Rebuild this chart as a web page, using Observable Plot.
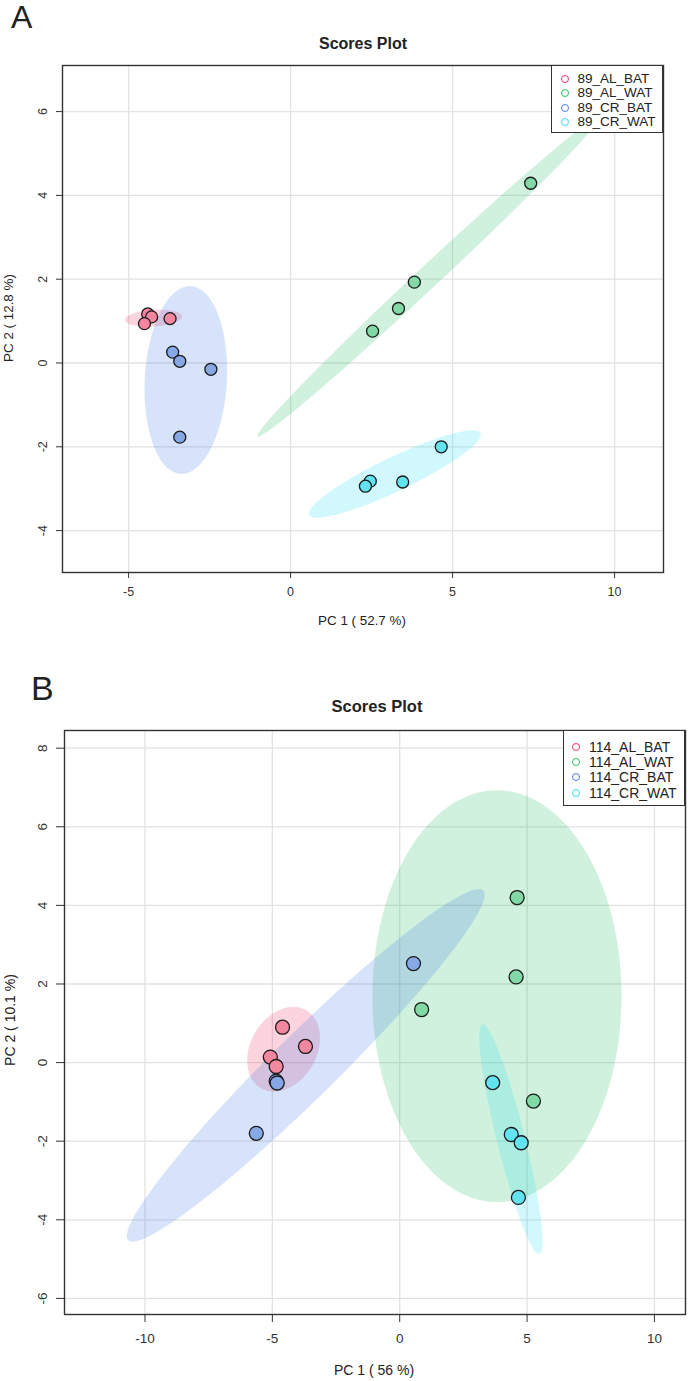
<!DOCTYPE html>
<html><head><meta charset="utf-8">
<script src="https://cdn.jsdelivr.net/npm/d3@7"></script>
<script src="https://cdn.jsdelivr.net/npm/@observablehq/plot@0.6"></script>
<style>
body{margin:0;background:#fff;font-family:"Liberation Sans",Arial,sans-serif;color:#222;}
#wrap{position:relative;width:688px;height:1381px;overflow:hidden;background:#fff;}
.abs{position:absolute;white-space:nowrap;line-height:1;}
.panel{position:absolute;left:0;}
.legend{position:absolute;background:#fff;border:1px solid #333;box-sizing:border-box;}
.lrow{position:absolute;white-space:nowrap;line-height:1;transform:translateY(-50%);color:#222;}
.ldot{position:absolute;border-radius:50%;box-sizing:border-box;transform:translate(-50%,-50%);}
</style>
</head><body>
<div id="wrap"></div>
<script>
// ---------- data ----------
const groupsA = ["89_AL_BAT", "89_AL_WAT", "89_CR_BAT", "89_CR_WAT"];
const groupsB = ["114_AL_BAT", "114_AL_WAT", "114_CR_BAT", "114_CR_WAT"];
const groupColors = ["#EE3A6A", "#2BBF62", "#4A7EEA", "#2FE0F2"];
const pointFills = ["#F2879F", "#83D9A6", "#86A9E6", "#63E3F0"];

// Panel A scores
const scoreA_group = [0,0,0,0, 1,1,1,1, 2,2,2,2, 3,3,3,3];
const scoreA_pc1 = [-4.41,-4.29,-4.51,-3.72, 7.41,3.82,3.33,2.53, -3.64,-3.42,-2.46,-3.42, 4.65,2.46,2.31,3.46];
const scoreA_pc2 = [1.17,1.10,0.94,1.06, 4.29,1.93,1.30,0.76, 0.26,0.04,-0.15,-1.77, -2.00,-2.82,-2.94,-2.84];

// Panel B scores
const scoreB_group = [0,0,0,0, 1,1,1,1, 2,2,2,2, 3,3,3,3];
const scoreB_pc1 = [-4.60,-3.70,-5.08,-4.85, 4.61,4.57,0.86,5.25, -4.85,-4.81,-5.63,0.54, 3.65,4.38,4.77,4.66];
const scoreB_pc2 = [0.90,0.41,0.14,-0.10, 4.20,2.18,1.35,-0.98, -0.47,-0.52,-1.80,2.52, -0.51,-1.83,-2.04,-3.43];

// Confidence ellipses (center and two semi-axis vectors, data units), per group
const ellA_cx = [-4.23, 4.27, -3.235, 3.22];
const ellA_cy = [1.07, 2.07, -0.405, -2.65];
const ellA_ax = [0.88, 5.29, 0.154, 2.645];
const ellA_ay = [0.04, 3.82, 2.24, 0.976];
const ellA_bx = [0.0, 0.232, 1.265, 0.226];
const ellA_by = [0.20, -0.192, -0.048, -0.365];

const ellB_cx = [-4.56, 3.82, -3.69, 4.365];
const ellB_cy = [0.34, 1.69, -0.07, -1.95];
const ellB_ax = [0.883, 0.0, 6.97, -1.119];
const ellB_ay = [0.992, 5.24, 4.45, 2.921];
const ellB_bx = [1.123, 4.89, 0.887, 0.534];
const ellB_by = [-0.420, 0.0, -0.575, 0.087];

const ticksA_x = [-5, 0, 5, 10];
const ticksA_y = [-4, -2, 0, 2, 4, 6];
const ticksB_x = [-10, -5, 0, 5, 10];
const ticksB_y = [-6, -4, -2, 0, 2, 4, 6, 8];

// ---------- helpers ----------
function ellipse(cx, cy, ax, ay, bx, by) {
  const pts = [];
  const n = 140;
  for (let i = 0; i < n; i++) {
    const t = 2 * Math.PI * i / n;
    pts.push({x: cx + ax * Math.cos(t) + bx * Math.sin(t), y: cy + ay * Math.cos(t) + by * Math.sin(t)});
  }
  return pts;
}

const fmt = d => String(d);

function makePanel(cfg) {
  const marks = [
    Plot.gridX(cfg.xt, {stroke: "#e2e2e2", strokeOpacity: 1, strokeWidth: 1.3}),
    Plot.gridY(cfg.yt, {stroke: "#e2e2e2", strokeOpacity: 1, strokeWidth: 1.3})
  ];
  for (let g = 0; g < 4; g++) {
    const e = ellipse(cfg.ell.cx[g], cfg.ell.cy[g], cfg.ell.ax[g], cfg.ell.ay[g], cfg.ell.bx[g], cfg.ell.by[g]);
    marks.push(Plot.line(e, {x: "x", y: "y", fill: groupColors[g], fillOpacity: 0.22, stroke: "none", curve: "linear-closed"}));
  }
  const pts = cfg.pc1.map((v, i) => ({x: v, y: cfg.pc2[i], g: cfg.grp[i]}));
  for (let g = 0; g < 4; g++) {
    marks.push(Plot.dot(pts.filter(d => d.g === g), {x: "x", y: "y", r: cfg.r, fill: pointFills[g], stroke: "#1a1a1a", strokeWidth: 1.3}));
  }
  marks.push(Plot.frame({stroke: "#333", strokeWidth: 1.4}));
  marks.push(Plot.axisX(cfg.xt, {tickSize: cfg.tickSize, tickPadding: cfg.padX, tickFormat: fmt, label: null, fontSize: cfg.fs, stroke: "#333"}));
  marks.push(Plot.axisY(cfg.yt, {tickSize: cfg.tickSize, tickPadding: cfg.padY, tickFormat: fmt, tickRotate: -90, label: null, fontSize: cfg.fs, stroke: "#333"}));
  return Plot.plot({
    width: 688, height: cfg.height,
    marginLeft: cfg.ml, marginRight: cfg.mr, marginTop: cfg.mt, marginBottom: cfg.mb,
    x: {domain: cfg.xd}, y: {domain: cfg.yd},
    style: {fontFamily: '"Liberation Sans", Arial, sans-serif', color: "#333", background: "white", overflow: "visible"},
    marks
  });
}

const wrap = document.getElementById("wrap");
function addText(txt, x, baseline, fs, opts = {}) {
  const d = document.createElement("div");
  d.className = "abs";
  d.textContent = txt;
  d.style.fontSize = fs + "px";
  d.style.top = Math.max(1, baseline - 0.8465 * fs) + "px";
  if (opts.bold) d.style.fontWeight = "bold";
  d.style.left = x + "px";
  if (opts.center) d.style.transform = "translateX(-50%)";
  wrap.appendChild(d);
  return d;
}
function addVText(txt, cx, cy, fs) {
  const d = document.createElement("div");
  d.className = "abs";
  d.textContent = txt;
  d.style.fontSize = fs + "px";
  d.style.left = cx + "px";
  d.style.top = cy + "px";
  d.style.transform = "translate(-50%,-50%) rotate(-90deg)";
  wrap.appendChild(d);
}
function addLegend(names, left, top, w, h, rowY, dotX, textX, fs) {
  const L = document.createElement("div");
  L.className = "legend";
  L.style.left = left + "px"; L.style.top = top + "px";
  L.style.width = w + "px"; L.style.height = h + "px";
  names.forEach((n, i) => {
    const dot = document.createElement("div");
    dot.className = "ldot";
    dot.style.width = "8px"; dot.style.height = "8px";
    dot.style.border = "1.6px solid " + groupColors[i];
    dot.style.left = dotX + "px"; dot.style.top = rowY[i] + "px";
    L.appendChild(dot);
    const t = document.createElement("div");
    t.className = "lrow";
    t.style.left = textX + "px"; t.style.top = rowY[i] + "px";
    t.style.fontSize = fs + "px";
    t.textContent = n;
    L.appendChild(t);
  });
  wrap.appendChild(L);
}

// ---------- Panel A ----------
const pA = makePanel({
  height: 640, ml: 62, mr: 25, mt: 65, mb: 68,
  xd: [-7.04, 11.51], yd: [-5.0, 7.10], xt: ticksA_x, yt: ticksA_y,
  pc1: scoreA_pc1, pc2: scoreA_pc2, grp: scoreA_group,
  ell: {cx: ellA_cx, cy: ellA_cy, ax: ellA_ax, ay: ellA_ay, bx: ellA_bx, by: ellA_by},
  r: 6, tickSize: 6, padX: 9, padY: 10, fs: 12.5
});
pA.classList.add("panel"); pA.style.top = "0px";
wrap.appendChild(pA);
addText("A", 11, 28.5, 32);
addText("Scores Plot", 363, 49.5, 16, {bold: true, center: true});
addText("PC 1 ( 52.7 %)", 362, 625, 13.4, {center: true});
addVText("PC 2 ( 12.8 %)", 9, 318, 13.4);
addLegend(groupsA, 551, 65, 112, 68, [12.7, 27.2, 41.6, 56], 13, 25.5, 13.5);

// ---------- Panel B ----------
const pB = makePanel({
  height: 731, ml: 64, mr: 3, mt: 80, mb: 67,
  xd: [-13.16, 11.22], yd: [-6.41, 8.45], xt: ticksB_x, yt: ticksB_y,
  pc1: scoreB_pc1, pc2: scoreB_pc2, grp: scoreB_group,
  ell: {cx: ellB_cx, cy: ellB_cy, ax: ellB_ax, ay: ellB_ay, bx: ellB_bx, by: ellB_by},
  r: 7, tickSize: 8, padX: 11, padY: 10, fs: 13.5
});
pB.classList.add("panel"); pB.style.top = "650px";
wrap.appendChild(pB);
addText("B", 31, 700, 34);
addText("Scores Plot", 377, 712, 16.5, {bold: true, center: true});
addText("PC 1 ( 56 %)", 374, 1375, 14, {center: true});
addVText("PC 2 ( 10.1 %)", 10, 1020, 14);
addLegend(groupsB, 563, 730, 122, 76, [15.5, 30.8, 46, 61.5], 12, 25, 14);
</script>
</body></html>
